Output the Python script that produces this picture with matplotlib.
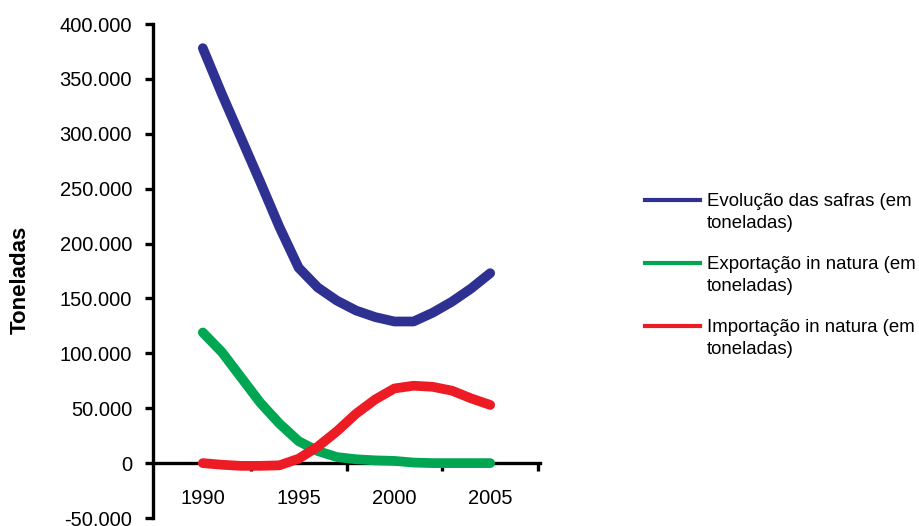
import matplotlib
matplotlib.use("Agg")
import matplotlib.pyplot as plt
from matplotlib.lines import Line2D
from matplotlib.ticker import FuncFormatter

plt.rcParams["font.family"] = ["Liberation Sans", "DejaVu Sans"]

# Dados (toneladas)
anos = list(range(1990, 2006))
safras = [378000, 336000, 296000, 256000, 215000, 178000, 160000, 148000,
          139000, 133000, 129000, 129000, 137000, 147000, 159000, 173000]
exportacao = [119000, 101000, 78000, 55000, 36000, 20000, 11000, 5500,
              3500, 2500, 2000, 500, 0, 0, 0, 0]
importacao = [0, -1500, -2500, -2500, -2000, 4000, 15000, 29000,
              45000, 58000, 68000, 70500, 69500, 66000, 59000, 53000]

rotulos = ["Evolução das safras (em\ntoneladas)",
           "Exportação in natura (em\ntoneladas)",
           "Importação in natura (em\ntoneladas)"]
cores = ["#2E3192", "#00A651", "#ED1C24"]
anos_rotulados = [1990, 1995, 2000, 2005]

W, H = 920, 526
fig = plt.figure(figsize=(W / 100, H / 100), dpi=100)
ax = fig.add_axes([153 / W, (H - 518) / H, 387 / W, 494 / H])

for serie, cor in zip([safras, exportacao, importacao], cores):
    ax.plot(anos, serie, color=cor, lw=7, solid_capstyle="round",
            solid_joinstyle="round", zorder=3, clip_on=False)

ax.set_xlim(1987.4, 2007.6)
ax.set_ylim(-50000, 400000)

for s in ["top", "right"]:
    ax.spines[s].set_visible(False)
ax.spines["bottom"].set_position(("data", 0))
ax.spines["left"].set_linewidth(2.4)
ax.spines["bottom"].set_linewidth(2.4)

ax.set_yticks(range(-50000, 400001, 50000))
ax.yaxis.set_major_formatter(
    FuncFormatter(lambda v, p: f"{v:,.0f}".replace(",", ".")))
ax.tick_params(axis="y", direction="out", length=6, width=2.4,
               labelsize=14.5, pad=9)

# marcas entre os anos, rótulos centrados nos anos
ax.set_xticks([1992.5, 1997.5, 2002.5, 2007.5])
ax.set_xticklabels([])
ax.tick_params(axis="x", which="major", direction="out", length=6, width=2.4)
ax.set_xticks(anos_rotulados, minor=True)
ax.set_xticklabels([str(a) for a in anos_rotulados], minor=True)
ax.tick_params(axis="x", which="minor", length=0, labelsize=14.5, pad=19)

fig.text(20 / W, 1 - 280 / H, "Toneladas", rotation=90, ha="center",
         va="center", fontsize=16, fontweight="bold")

# legenda
ys = [200, 263, 326]
for y, cor, txt in zip(ys, cores, rotulos):
    fig.add_artist(Line2D([645 / W, 700 / W], [1 - y / H, 1 - y / H],
                          transform=fig.transFigure, color=cor, lw=3))
    fig.text(707 / W, 1 - (y - 7) / H, txt, ha="left", va="top",
             fontsize=13.4, linespacing=1.36)

fig.savefig("out.png", dpi=100)
